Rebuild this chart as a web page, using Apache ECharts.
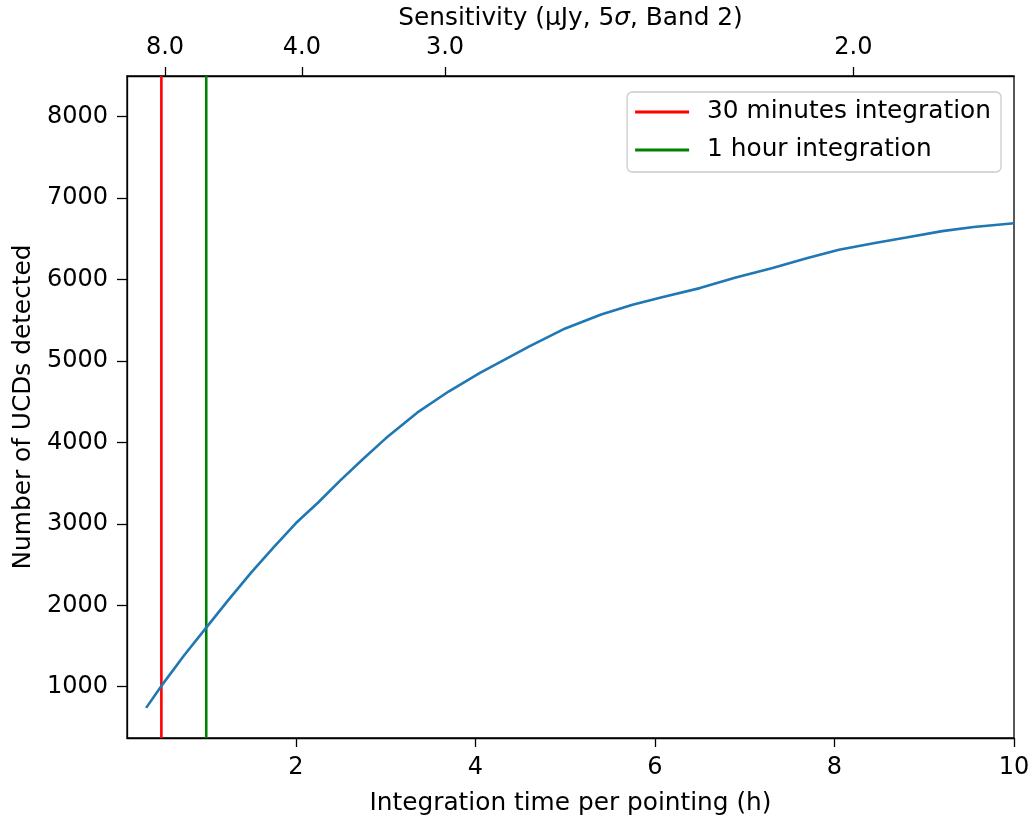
<!DOCTYPE html>
<html>
<head>
<meta charset="utf-8">
<script src="https://cdn.jsdelivr.net/npm/echarts@6/dist/echarts.min.js"></script>
<style>
  html, body { margin: 0; padding: 0; background: #fff; }
  #chart { width: 1032px; height: 818px; }
</style>
</head>
<body>
<div id="chart"></div>
<script>
// ---- data ----
const timeHours = [0.33, 0.5, 0.75, 1.0, 1.25, 1.5, 1.75, 2.0, 2.25, 2.5, 2.75, 3.0, 3.35, 3.7, 4.05, 4.6, 5.0, 5.4, 5.75, 6.1, 6.5, 6.9, 7.3, 7.7, 8.05, 8.45, 8.8, 9.2, 9.55, 10.0];
const ucdCounts = [740, 1010, 1380, 1725, 2070, 2400, 2710, 3010, 3265, 3540, 3800, 4050, 4365, 4625, 4855, 5180, 5400, 5570, 5690, 5790, 5895, 6025, 6140, 6265, 6365, 6450, 6517, 6595, 6645, 6692];
const thirtyMinX = 0.5;
const oneHourX = 1.0;
const xTicks = [2, 4, 6, 8, 10];
const yTicks = [1000, 2000, 3000, 4000, 5000, 6000, 7000, 8000];
const sensTickLabels = ['8.0', '4.0', '3.0', '2.0'];   // µJy, top axis
const sensTickHours = [0.54, 2.065, 3.66, 8.21];        // where those labels sit on the time axis
const X_MIN = 0.117, X_MAX = 10;
const Y_MIN = 370, Y_MAX = 8500;
const seriesNames = ['30 minutes integration', '1 hour integration'];

const FONT = 'DejaVu Sans';
const FS = 24;      // tick labels
const FS_T = 24.8;  // axis titles and legend

const chart = echarts.init(document.getElementById('chart'), null, { renderer: 'canvas' });

const option = {
  animation: false,
  backgroundColor: '#ffffff',
  textStyle: { fontFamily: FONT },
  grid: {
    left: 127, right: 18, top: 76, bottom: 80,
    outerBoundsMode: 'none',
    containLabel: false,
    show: true, borderColor: '#000', borderWidth: 1.3, backgroundColor: 'transparent'
  },
  legend: {
    data: seriesNames,
    orient: 'vertical',
    right: 31, top: 92,
    padding: [7, 10, 9, 8],
    itemGap: 12,
    itemWidth: 54,
    itemHeight: 3,
    icon: 'rect',
    backgroundColor: 'rgba(255,255,255,0.8)',
    borderColor: '#cccccc',
    borderWidth: 1.3,
    borderRadius: 5,
    textStyle: { fontFamily: FONT, fontSize: FS_T, color: '#000', lineHeight: 26, padding: [0, 0, 0, 13] }
  },
  xAxis: [
    {
      type: 'value', position: 'bottom', min: X_MIN, max: X_MAX,
      name: 'Integration time per pointing (h)', nameLocation: 'middle', nameGap: 53,
      nameTextStyle: { fontFamily: FONT, fontSize: FS_T, color: '#000' },
      axisLine: { show: true, lineStyle: { color: '#000', width: 1.3 } },
      axisTick: { show: true, customValues: xTicks, length: 9, lineStyle: { color: '#000', width: 1.3 } },
      axisLabel: { customValues: xTicks, fontFamily: FONT, fontSize: FS, color: '#000', margin: 18, formatter: v => String(v) },
      splitLine: { show: false }
    },
    {
      type: 'value', position: 'top', min: X_MIN, max: X_MAX,
      name: 'Sensitivity (µJy, 5{s|σ}, Band 2)', nameLocation: 'middle', nameGap: 43,
      nameTextStyle: { fontFamily: FONT, fontSize: FS_T, color: '#000',
        rich: { s: { fontFamily: FONT, fontSize: FS_T, fontStyle: 'italic', color: '#000' } } },
      axisLine: { show: true, lineStyle: { color: '#000', width: 1.3 } },
      axisTick: { show: true, customValues: sensTickHours, length: 9, lineStyle: { color: '#000', width: 1.3 } },
      axisLabel: {
        customValues: sensTickHours,
        fontFamily: FONT, fontSize: FS, color: '#000', margin: 16,
        formatter: v => {
          const i = sensTickHours.findIndex(h => Math.abs(h - v) < 1e-6);
          return i >= 0 ? sensTickLabels[i] : '';
        }
      },
      splitLine: { show: false }
    }
  ],
  yAxis: {
    type: 'value', min: Y_MIN, max: Y_MAX,
    name: 'Number of UCDs detected', nameLocation: 'middle', nameGap: 89, nameRotate: 90,
    nameTextStyle: { fontFamily: FONT, fontSize: FS_T, color: '#000' },
    axisLine: { show: true, lineStyle: { color: '#000', width: 1.3 } },
    axisTick: { show: true, customValues: yTicks, length: 10, lineStyle: { color: '#000', width: 1.3 } },
    axisLabel: { customValues: yTicks, fontFamily: FONT, fontSize: FS, color: '#000', margin: 19, formatter: v => String(v) },
    splitLine: { show: false }
  },
  series: [
    {
      name: 'UCDs', type: 'line', xAxisIndex: 0,
      data: timeHours.map((t, i) => [t, ucdCounts[i]]),
      showSymbol: false, symbol: 'none',
      lineStyle: { color: '#1f77b4', width: 2.6 },
      itemStyle: { color: '#1f77b4' },
      z: 3
    },
    {
      name: seriesNames[0], type: 'line', xAxisIndex: 0,
      data: [[thirtyMinX, Y_MIN], [thirtyMinX, Y_MAX]],
      symbol: 'none', showSymbol: false,
      lineStyle: { color: '#ff0000', width: 2.6 },
      itemStyle: { color: '#ff0000' },
      z: 2
    },
    {
      name: seriesNames[1], type: 'line', xAxisIndex: 0,
      data: [[oneHourX, Y_MIN], [oneHourX, Y_MAX]],
      symbol: 'none', showSymbol: false,
      lineStyle: { color: '#008000', width: 2.6 },
      itemStyle: { color: '#008000' },
      z: 2
    }
  ]
};
chart.setOption(option);
</script>
</body>
</html>
